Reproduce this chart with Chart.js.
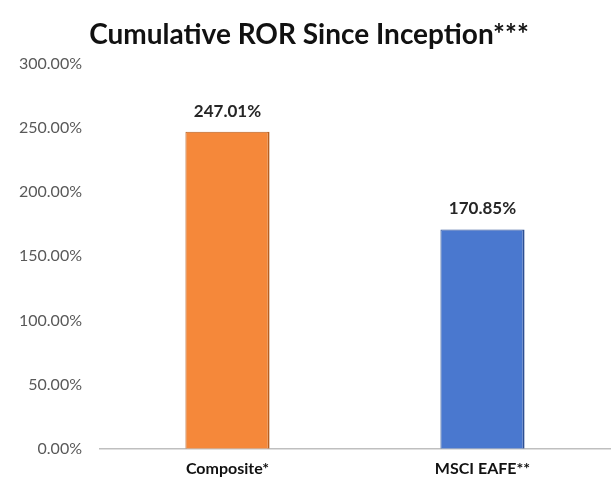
<!DOCTYPE html>
<html>
<head>
<meta charset="utf-8">
<script src="https://cdn.jsdelivr.net/npm/chart.js@4"></script>
<style>
  html, body { margin: 0; padding: 0; background: #fff; }
  #wrap { width: 614px; height: 487px; }
</style>
</head>
<body>
<div id="wrap"><canvas id="rorChart" width="614" height="487"></canvas></div>
<script>
// Datos
const categories = ['Composite*', 'MSCI EAFE**'];
const rorValues  = [247.01, 170.85];
const barColors  = ['#F5883A', '#4A78CF'];
const barBorders = ['#B85E1E', '#2D4F93'];
const yTicks     = [0, 50, 100, 150, 200, 250, 300];

const FONT = 'Lato, "Open Sans", sans-serif';

// etiquetas sobre las barras
const valueLabels = {
  id: 'valueLabels',
  afterDatasetsDraw(chart) {
    const ctx = chart.ctx;
    const meta = chart.getDatasetMeta(0);
    ctx.save();
    ctx.font = 'bold 17px ' + FONT;
    ctx.fillStyle = '#262626';
    ctx.textAlign = 'center';
    ctx.textBaseline = 'bottom';
    meta.data.forEach((bar, i) => {
      ctx.fillText(rorValues[i].toFixed(2) + '%', bar.x, bar.y - 12);
    });
    ctx.restore();
  }
};

new Chart(document.getElementById('rorChart'), {
  type: 'bar',
  data: {
    labels: categories,
    datasets: [{
      data: rorValues,
      backgroundColor: barColors,
      borderColor: barBorders,
      borderWidth: { top: 1, left: 1, right: 2, bottom: 0 },
      barPercentage: 0.33,
      categoryPercentage: 1
    }]
  },
  options: {
    responsive: false,
    animation: false,
    layout: { padding: { left: 8, right: 4, top: 0, bottom: 7 } },
    plugins: {
      legend: { display: false },
      tooltip: { enabled: false },
      title: {
        display: true,
        text: 'Cumulative ROR Since Inception***',
        color: '#111',
        font: { size: 28, weight: 'bold', family: FONT },
        padding: { top: 18, bottom: 12 }
      }
    },
    scales: {
      x: {
        grid: { display: false },
        border: { display: true, color: '#BFBFBF', width: 1.5 },
        ticks: { color: '#111', font: { size: 16, weight: 'bold', family: FONT }, padding: 2 }
      },
      y: {
        min: 0,
        max: 300,
        afterBuildTicks: axis => { axis.ticks = yTicks.map(v => ({ value: v })); },
        afterFit: axis => { axis.width = 92; },
        grid: { display: false },
        border: { display: false },
        ticks: {
          color: '#595959',
          font: { size: 16, family: FONT },
          padding: 10,
          callback: v => v.toFixed(2) + '%'
        }
      }
    }
  },
  plugins: [valueLabels]
});
</script>
</body>
</html>
